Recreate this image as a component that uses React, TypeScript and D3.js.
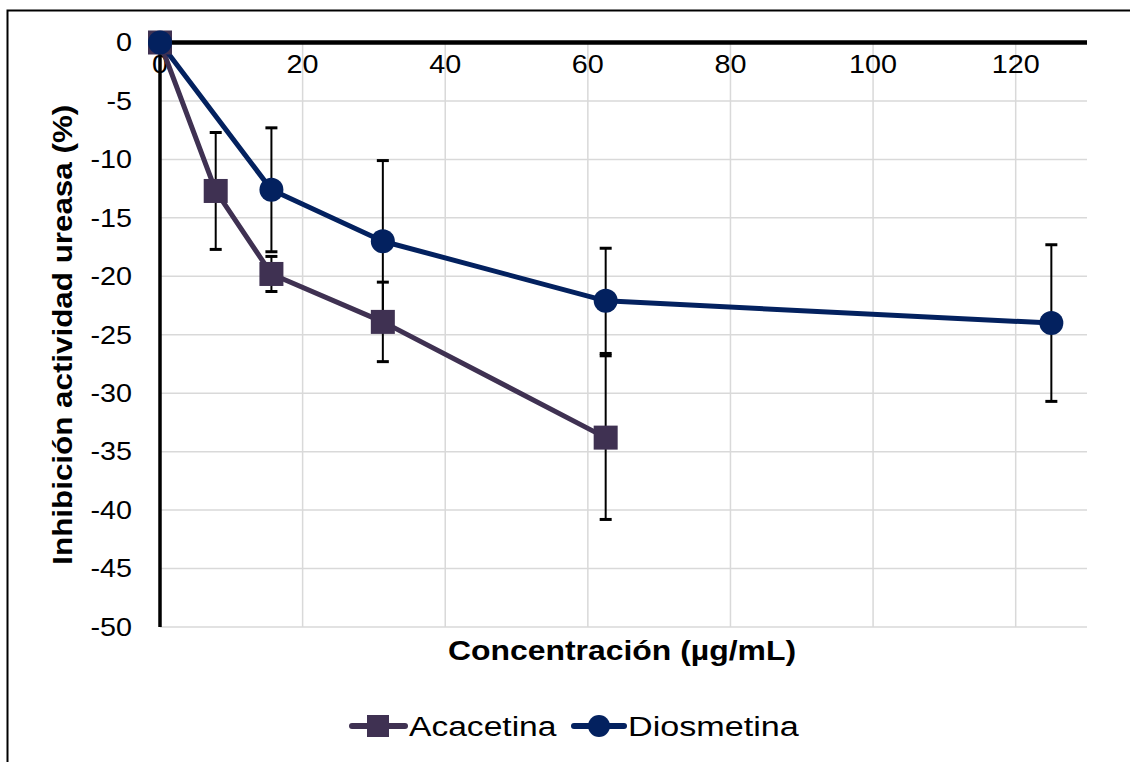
import React from 'react';
import * as d3 from 'd3';

// concentraciones (µg/mL)
const concAcacetina = [0, 7.8125, 15.625, 31.25, 62.5];
const valAcacetina = [0, -12.7, -19.8, -23.9, -33.8];
const errAcacetina = [0, 5.0, 1.5, 3.4, 7.0];

const concDiosmetina = [0, 15.625, 31.25, 62.5, 125];
const valDiosmetina = [0, -12.6, -17.0, -22.1, -24.0];
const errDiosmetina = [0, 5.3, 6.9, 4.5, 6.7];

const xTicks = [0, 20, 40, 60, 80, 100, 120];
const yTicks = [0, -5, -10, -15, -20, -25, -30, -35, -40, -45, -50];

const W = 1130;
const H = 762;
const FONT = 'Liberation Sans, Arial, sans-serif';

const C_ACA = '#3f3152';
const C_DIO = '#03215f';

// texto algo ensanchado, como en el original
const Txt = ({ x, y, sx = 1.15, rot = 0, anchor = 'start', size = 25, bold = false, children }: any) => (
  <text
    transform={`translate(${x},${y}) rotate(${rot}) scale(${sx},1)`}
    textAnchor={anchor}
    dy="0.35em"
    fontSize={size}
    fontWeight={bold ? 'bold' : 'normal'}
    fill="#000"
  >
    {children}
  </text>
);

const App = () => {
  const x = d3.scaleLinear().domain([0, 130]).range([160, 1087]);
  const y = d3.scaleLinear().domain([0, -50]).range([42.5, 627]);

  const line = d3
    .line<[number, number]>()
    .x((d) => x(d[0]))
    .y((d) => y(d[1]));

  const aca = concAcacetina.map((c, i) => [c, valAcacetina[i]] as [number, number]);
  const dio = concDiosmetina.map((c, i) => [c, valDiosmetina[i]] as [number, number]);

  const errBars = (conc: number[], vals: number[], errs: number[], key: string) =>
    conc.map((c, i) => {
      if (!errs[i]) return null;
      const cx = x(c);
      const y1 = y(vals[i] + errs[i]);
      const y2 = y(vals[i] - errs[i]);
      return (
        <g key={key + i} stroke="#000" strokeWidth={2}>
          <line x1={cx} x2={cx} y1={y1} y2={y2} />
          <line x1={cx - 6} x2={cx + 6} y1={y1} y2={y1} strokeWidth={3} />
          <line x1={cx - 6} x2={cx + 6} y1={y2} y2={y2} strokeWidth={3} />
        </g>
      );
    });

  return (
    <svg
      width={W}
      height={H}
      style={{ position: 'absolute', left: 0, top: 0, background: '#fff' }}
      fontFamily={FONT}
    >
      <rect x={7.5} y={10.5} width={1200} height={900} fill="#fff" stroke="#000" strokeWidth={2} />

      {/* cuadrícula */}
      {yTicks.filter((t) => t !== 0).map((t) => (
        <line key={'gy' + t} x1={x(0)} x2={x(130)} y1={y(t)} y2={y(t)} stroke="#d9d9d9" strokeWidth={1.5} />
      ))}
      {xTicks.filter((t) => t !== 0).map((t) => (
        <line key={'gx' + t} x1={x(t)} x2={x(t)} y1={y(0)} y2={y(-50)} stroke="#d9d9d9" strokeWidth={1.5} />
      ))}

      {/* ejes */}
      <line x1={x(0)} x2={x(0)} y1={y(0)} y2={y(-50)} stroke="#000" strokeWidth={3.5} />
      <line x1={x(0)} x2={x(130)} y1={y(0)} y2={y(0)} stroke="#000" strokeWidth={4.5} />

      {yTicks.map((t) => (
        <Txt key={'ty' + t} x={132} y={y(t)} anchor="end">
          {t}
        </Txt>
      ))}
      {xTicks.map((t) => (
        <Txt key={'tx' + t} x={x(t)} y={y(0) + 22} anchor="middle">
          {t}
        </Txt>
      ))}

      {/* series */}
      <path d={line(aca) || ''} fill="none" stroke={C_ACA} strokeWidth={5} strokeLinejoin="round" />
      <path d={line(dio) || ''} fill="none" stroke={C_DIO} strokeWidth={5} strokeLinejoin="round" />

      {errBars(concAcacetina, valAcacetina, errAcacetina, 'ea')}
      {errBars(concDiosmetina, valDiosmetina, errDiosmetina, 'ed')}

      {aca.map((d, i) => (
        <rect key={'ma' + i} x={x(d[0]) - 12} y={y(d[1]) - 12} width={24} height={24} fill={C_ACA} />
      ))}
      {dio.map((d, i) => (
        <circle key={'md' + i} cx={x(d[0])} cy={y(d[1])} r={12} fill={C_DIO} />
      ))}

      {/* títulos */}
      <Txt x={62} y={(y(0) + y(-50)) / 2} rot={-90} sx={1.12} anchor="middle" size={28} bold>
        Inhibición actividad ureasa (%)
      </Txt>
      <Txt x={622} y={650} sx={1.14} anchor="middle" size={28} bold>
        Concentración (µg/mL)
      </Txt>

      {/* leyenda */}
      <g>
        <line x1={352} x2={405} y1={726} y2={726} stroke={C_ACA} strokeWidth={6} strokeLinecap="round" />
        <rect x={367} y={715} width={22} height={22} fill={C_ACA} />
        <Txt x={409} y={726} sx={1.2} size={28}>Acacetina</Txt>
        <line x1={574} x2={624} y1={726} y2={726} stroke={C_DIO} strokeWidth={6} strokeLinecap="round" />
        <circle cx={599} cy={726} r={11} fill={C_DIO} />
        <Txt x={628} y={726} sx={1.22} size={28}>Diosmetina</Txt>
      </g>
    </svg>
  );
};

export default App;
